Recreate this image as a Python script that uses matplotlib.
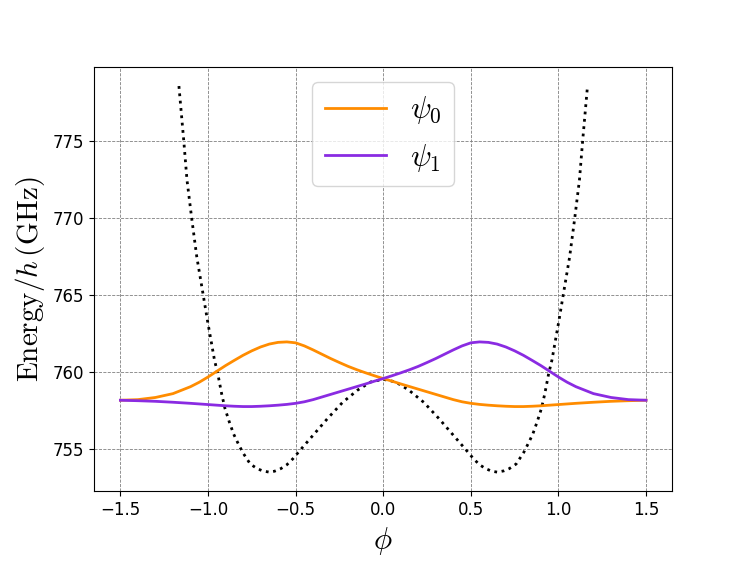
import matplotlib
matplotlib.use("Agg")
import matplotlib.pyplot as plt

plt.rcParams['mathtext.fontset'] = 'cm'

# double-well potential
phi_pot = [-1.166, -1.138, -1.12, -1.093, -1.064, -1.027, -1.002, -0.963, -0.944,
           -0.922, -0.903, -0.879, -0.854, -0.831, -0.802, -0.759, -0.72, -0.688,
           -0.651, -0.62, -0.584, -0.55, -0.517, -0.47, -0.394, -0.318, -0.232,
           -0.146, -0.071, 0.0,
           0.071, 0.146, 0.232, 0.318, 0.394, 0.47, 0.517, 0.55, 0.584,
           0.62, 0.651, 0.688, 0.72, 0.759, 0.802, 0.831, 0.854, 0.879,
           0.903, 0.922, 0.944, 0.963, 1.002, 1.027, 1.064, 1.093, 1.12, 1.138, 1.166]
V_pot = [778.6, 775.0, 772.5, 770.0, 767.5, 765.0, 763.3, 760.8, 759.9,
         758.6, 757.65, 756.8, 756.0, 755.45, 754.8, 754.05, 753.75, 753.6,
         753.52, 753.58, 753.75, 754.0, 754.37, 755.0, 756.0, 757.0, 758.05,
         758.85, 759.38, 759.55,
         759.38, 758.85, 758.05, 757.0, 756.0, 755.0, 754.37, 754.0, 753.75,
         753.58, 753.52, 753.6, 753.75, 754.05, 754.8, 755.45, 756.0, 756.8,
         757.65, 758.6, 759.9, 760.8, 763.3, 765.0, 767.5, 770.0, 772.5, 775.0, 778.6]

# wavefunctions, offset by their energy
phi_wf = [-1.5, -1.4, -1.3, -1.2, -1.1, -1.05, -1.0, -0.95, -0.9, -0.85, -0.8, -0.75,
          -0.7, -0.65, -0.6, -0.55, -0.5, -0.45, -0.4, -0.35, -0.3, -0.25, -0.2,
          -0.15, -0.1, -0.05, 0.0, 0.05, 0.1, 0.15, 0.2, 0.25, 0.3, 0.35, 0.4, 0.45,
          0.5, 0.55, 0.6, 0.65, 0.7, 0.75, 0.8, 0.85, 0.9, 0.95, 1.0, 1.05, 1.1,
          1.2, 1.3, 1.4, 1.5]
psi0 = [758.19, 758.23, 758.37, 758.62, 759.07, 759.36, 759.70, 760.07, 760.44, 760.78,
        761.11, 761.40, 761.65, 761.84, 761.95, 761.98, 761.92, 761.72, 761.46, 761.18,
        760.90, 760.64, 760.39, 760.17, 759.97, 759.78, 759.60, 759.43, 759.25, 759.08,
        758.91, 758.74, 758.57, 758.40, 758.23, 758.09, 757.99, 757.92, 757.87, 757.83,
        757.80, 757.78, 757.78, 757.80, 757.83, 757.87, 757.91, 757.95, 757.99, 758.06,
        758.12, 758.16, 758.19]
psi1 = [758.19, 758.16, 758.12, 758.06, 757.99, 757.95, 757.91, 757.87, 757.83, 757.80,
        757.78, 757.78, 757.80, 757.83, 757.87, 757.92, 757.99, 758.09, 758.23, 758.40,
        758.57, 758.74, 758.91, 759.08, 759.25, 759.43, 759.60, 759.78, 759.97, 760.17,
        760.39, 760.64, 760.90, 761.18, 761.46, 761.72, 761.92, 761.98, 761.95, 761.84,
        761.65, 761.40, 761.11, 760.78, 760.44, 760.07, 759.70, 759.36, 759.07, 758.62,
        758.37, 758.23, 758.19]

fig, ax = plt.subplots(figsize=(7.47, 5.61), dpi=100)
fig.subplots_adjust(left=0.126, right=0.9, top=0.881, bottom=0.124)

ax.plot(phi_pot, V_pot, color='black', linestyle=':', linewidth=2)
ax.plot(phi_wf, psi0, color='darkorange', linewidth=2, label=r'$\psi_0$')
ax.plot(phi_wf, psi1, color='blueviolet', linewidth=2, label=r'$\psi_1$')

ax.grid(color='gray', linestyle='--', linewidth=0.6)
ax.set_xticks([-1.5, -1.0, -0.5, 0.0, 0.5, 1.0, 1.5])
ax.set_yticks([755, 760, 765, 770, 775])
ax.tick_params(labelsize=12)

ax.set_xlabel(r'$\phi$', fontsize=22)
ax.set_ylabel(r'$\mathrm{Energy}/h\,(\mathrm{GHz})$', fontsize=21)

ax.legend(loc='upper center', fontsize=22)

plt.savefig('out.png')
